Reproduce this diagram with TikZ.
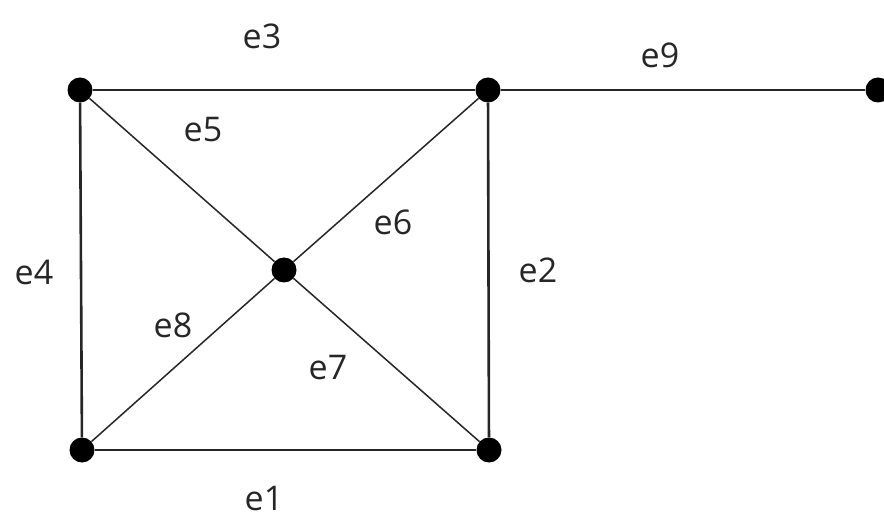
\documentclass[tikz,border=0pt]{standalone}
\usepackage{fontspec}
\setmainfont{Open Sans}

\begin{document}
\begin{tikzpicture}[
      x = 1pt, y = 1pt,
      vertex/.style={
        circle,
        fill = black,
        inner sep = 0pt,
        minimum size = 25pt,
      },
      elabel/.style={
        font = \fontsize{34}{38}\selectfont,
        text = black!85,
        inner sep = 0pt,
      },
      side/.style={line width = 2.6pt, black!85},
      diag/.style={line width = 1.5pt, black!85},
    ]
    \useasboundingbox (0,0) rectangle (884,520);
    % vertices
    \node[vertex] (tl) at (80,430) {};
    \node[vertex] (tm) at (488,430) {};
    \node[vertex] (tr) at (878,430) {};
    \node[vertex] (mid) at (284,250) {};
    \node[vertex] (bl) at (82,70) {};
    \node[vertex] (br) at (489,70) {};
    % edges
    \draw[side] (bl) -- (br);
    \draw[side] (tm) -- (br);
    \draw[side] (tl) -- (tm);
    \draw[side] (tl) -- (bl);
    \draw[side] (tm) -- (tr);
    \draw[diag] (tl) -- (mid);
    \draw[diag] (tm) -- (mid);
    \draw[diag] (mid) -- (br);
    \draw[diag] (mid) -- (bl);
    % labels
    \node[elabel] (l1) at (264,21) {e1};
    \node[elabel] (l2) at (538,250) {e2};
    \node[elabel] (l3) at (262,484) {e3};
    \node[elabel] (l4) at (34,248) {e4};
    \node[elabel] (l5) at (203,390) {e5};
    \node[elabel] (l6) at (393,298) {e6};
    \node[elabel] (l7) at (328,152) {e7};
    \node[elabel] (l8) at (173,195) {e8};
    \node[elabel] (l9) at (660,465) {e9};
  \end{tikzpicture}
\end{document}
